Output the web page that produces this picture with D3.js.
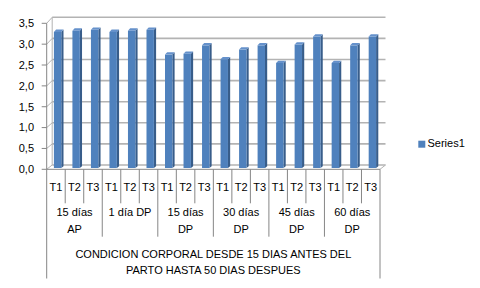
<!DOCTYPE html>
<html><head><meta charset="utf-8">
<script src="https://cdn.jsdelivr.net/npm/d3@7"></script>
<style>body{margin:0;background:#fff}svg{display:block}text{font-family:"Liberation Sans",Arial,sans-serif;font-size:11px;fill:#000}</style>
</head><body>
<script>
const subCats = ["T1","T2","T3","T1","T2","T3","T1","T2","T3","T1","T2","T3","T1","T2","T3","T1","T2","T3"];
const groups = ["15 días AP","1 día DP","15 días DP","30 días DP","45 días DP","60 días DP"];
const axisTitle = "CONDICION CORPORAL DESDE 15 DIAS ANTES DEL PARTO HASTA 50 DIAS DESPUES";
const series1 = [3.25,3.28,3.30,3.25,3.28,3.30,2.71,2.73,2.93,2.60,2.83,2.93,2.51,2.95,3.14,2.51,2.93,3.14];
const yTicks = [0,0.5,1,1.5,2,2.5,3,3.5];
const seriesName = "Series1";

const W=480,H=288;
const svg=d3.select("body").append("svg").attr("width",W).attr("height",H);
const fx0=46.7, fx1=380, DX=5.5;
const yF=d3.scaleLinear().domain([0,3.5]).range([169.3,23.3]);
const yB=d3.scaleLinear().domain([0,3.5]).range([165,17.3]);
const pt=(x,v,t)=>[x+t*DX, yF(v)*(1-t)+yB(v)*t];
const xb=d3.scaleBand().domain(d3.range(subCats.length)).range([fx0,fx1]).paddingInner(0.6).paddingOuter(0.3);
const xc=d3.scaleLinear().domain([0,subCats.length]).range([fx0,fx1]);
const fmt=v=>d3.format(".1f")(v).replace(".",",");
const grid="#b3b3b3", axisC="#868686";

// back wall gridlines
svg.append("g").selectAll("line").data(yTicks).join("line")
 .attr("x1",fx0+DX).attr("x2",fx1+DX).attr("y1",d=>yB(d)).attr("y2",d=>yB(d))
 .attr("stroke",grid).attr("stroke-width",1.6);
// side wall diagonals
svg.append("g").selectAll("line").data(yTicks).join("line")
 .attr("x1",fx0).attr("x2",fx0+DX).attr("y1",d=>yF(d)).attr("y2",d=>yB(d))
 .attr("stroke",grid).attr("stroke-width",1);
// back wall left edge
svg.append("line").attr("x1",fx0+DX).attr("x2",fx0+DX).attr("y1",yB(3.5)).attr("y2",yB(0)).attr("stroke",grid);
// floor right diagonal
svg.append("line").attr("x1",fx1).attr("x2",fx1+DX).attr("y1",yF(0)).attr("y2",yB(0)).attr("stroke",grid);

// bars
const t0=0.3,t1=0.7;
const bars=svg.append("g").selectAll("g").data(series1).join("g");
const poly=a=>a.map(p=>p.join(",")).join(" ");
bars.append("polygon").attr("fill","#385d8a").attr("points",(d,i)=>{
  const xr=xb(i)+xb.bandwidth();
  return poly([pt(xr,0,t0),pt(xr,d,t0),pt(xr,d,t1),pt(xr,0,t1)]);
});
bars.append("polygon").attr("fill","#4f81bd").attr("points",(d,i)=>{
  const xl=xb(i),xr=xl+xb.bandwidth();
  return poly([pt(xl,0,t0),pt(xl,d,t0),pt(xr,d,t0),pt(xr,0,t0)]);
});
bars.append("polygon").attr("fill","#6591cb").attr("points",(d,i)=>{
  const xl=xb(i),xr=xl+xb.bandwidth();
  return poly([pt(xl,d,t0),pt(xl,d,t1),pt(xr,d,t1),pt(xr,d,t0)]);
});

// value axis
svg.append("line").attr("x1",fx0).attr("x2",fx0).attr("y1",yF(3.5)).attr("y2",yF(0)).attr("stroke",axisC);
svg.append("g").selectAll("line").data(yTicks).join("line")
 .attr("x1",fx0-5).attr("x2",fx0).attr("y1",d=>yF(d)).attr("y2",d=>yF(d)).attr("stroke",axisC);
svg.append("g").selectAll("text").data(yTicks).join("text")
 .attr("x",34).attr("y",d=>yF(d)+1).attr("text-anchor","end").attr("dominant-baseline","middle").text(fmt);

// category axis
svg.append("line").attr("x1",fx0).attr("x2",fx1).attr("y1",yF(0)).attr("y2",yF(0)).attr("stroke",axisC);
const bounds=d3.range(subCats.length+1);
svg.append("g").selectAll("line").data(bounds).join("line")
 .attr("x1",d=>xc(d)).attr("x2",d=>xc(d)).attr("y1",yF(0))
 .attr("y2",d=>(d===0||d===subCats.length)?278.5:(d%3===0?236.7:203.3))
 .attr("stroke",axisC);
svg.append("g").selectAll("text").data(subCats).join("text")
 .attr("x",(d,i)=>xc(i+0.5)).attr("y",187.8).attr("text-anchor","middle").attr("dominant-baseline","middle").text(d=>d);

function wrap(sel,maxW,lh){
  sel.each(function(){
    const t=d3.select(this), words=t.text().split(" "), x=t.attr("x"), y=+t.attr("y");
    t.text(null);
    let line=[], n=0, ts=t.append("tspan").attr("x",x).attr("y",y);
    words.forEach(w=>{
      line.push(w); ts.text(line.join(" "));
      if(ts.node().getComputedTextLength()>maxW && line.length>1){
        line.pop(); ts.text(line.join(" ")); line=[w]; n++;
        ts=t.append("tspan").attr("x",x).attr("y",y+n*lh).text(w);
      }
    });
  });
}
svg.append("g").selectAll("text").data(groups).join("text")
 .attr("x",(d,i)=>xc(i*3+1.5)).attr("y",212.5).attr("text-anchor","middle").attr("dominant-baseline","middle").text(d=>d)
 .call(wrap,50,17.6);
svg.append("text").attr("x",(fx0+fx1)/2).attr("y",255.2).attr("text-anchor","middle").attr("dominant-baseline","middle").text(axisTitle)
 .call(wrap,300,15.6);

// legend
svg.append("rect").attr("x",418.3).attr("y",140.7).attr("width",7).attr("height",7).attr("fill","#4f81bd");
svg.append("text").attr("x",427.5).attr("y",144.5).attr("dominant-baseline","middle").text(seriesName);
</script>
</body></html>
